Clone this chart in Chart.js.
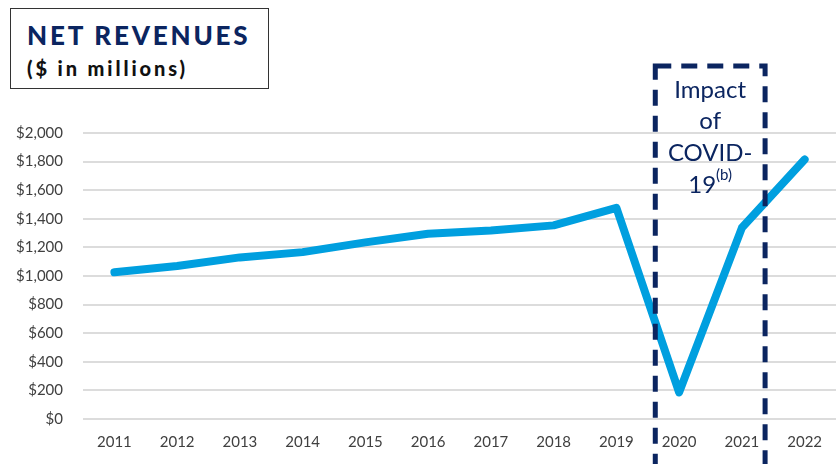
<!DOCTYPE html>
<html>
<head>
<meta charset="utf-8">
<script src="https://cdn.jsdelivr.net/npm/chart.js@4.4.0/dist/chart.umd.min.js"></script>
<style>
  html, body { margin: 0; padding: 0; background: #fff; }
  #wrap { position: relative; width: 836px; height: 464px; }
  #titleBox {
    position: absolute; left: 10px; top: 8px; width: 259px; height: 81px;
    border: 1px solid #333; box-sizing: border-box; background: #fff;
    font-family: Lato, "Open Sans", sans-serif;
  }
  #titleBox .t1 {
    position: absolute; left: 16px; top: 10px;
    font-size: 26px; font-weight: 900; color: #0b2560; letter-spacing: 2.8px;
  }
  #titleBox .t2 {
    position: absolute; left: 16px; top: 47px;
    font-size: 20px; font-weight: 900; color: #111; letter-spacing: 2.9px;
  }
</style>
</head>
<body>
<div id="wrap">
  <canvas id="revChart" width="836" height="464"></canvas>
  <div id="titleBox">
    <div class="t1">NET REVENUES</div>
    <div class="t2">($ in millions)</div>
  </div>
</div>
<script>
// Données
const years = ["2011", "2012", "2013", "2014", "2015", "2016", "2017", "2018", "2019", "2020", "2021", "2022"];
const netRevenues = [1026, 1070, 1130, 1167, 1235, 1295, 1318, 1354, 1477, 186, 1337, 1815];
const yTicks = [0, 200, 400, 600, 800, 1000, 1200, 1400, 1600, 1800, 2000];
const covidStart = "2020";
const covidEnd = "2021";

const navy = "#0b2560";

// Cadre pointillé "Impact of COVID-19"
const covidBox = {
  id: "covidBox",
  afterDatasetsDraw(chart) {
    const ctx = chart.ctx;
    const x = chart.scales.x;
    const step = x.getPixelForValue(1) - x.getPixelForValue(0);
    const left = x.getPixelForValue(years.indexOf(covidStart)) - step * 0.38;
    const right = x.getPixelForValue(years.indexOf(covidEnd)) + step * 0.37;
    const top = 66;
    const bottom = 470;

    ctx.save();
    ctx.strokeStyle = navy;
    ctx.lineWidth = 5;
    ctx.setLineDash([16, 10]);
    ctx.strokeRect(left, top, right - left, bottom - top);
    ctx.setLineDash([]);

    const cx = (left + right) / 2;
    ctx.fillStyle = navy;
    ctx.textAlign = "center";
    ctx.textBaseline = "middle";
    ctx.font = "24px Lato, 'Open Sans', sans-serif";
    ctx.fillText("Impact", cx, 90);
    ctx.fillText("of", cx, 121);
    ctx.fillText("COVID-", cx, 153);
    const w19 = ctx.measureText("19").width;
    ctx.font = "15px Lato, 'Open Sans', sans-serif";
    const wb = ctx.measureText("(b)").width;
    const start = cx - (w19 + wb) / 2;
    ctx.textAlign = "left";
    ctx.font = "24px Lato, 'Open Sans', sans-serif";
    ctx.fillText("19", start, 185);
    ctx.font = "15px Lato, 'Open Sans', sans-serif";
    ctx.fillText("(b)", start + w19, 175);
    ctx.restore();
  }
};

const ctx = document.getElementById("revChart").getContext("2d");
new Chart(ctx, {
  type: "line",
  data: {
    labels: years,
    datasets: [{
      data: netRevenues,
      borderColor: "#009fdf",
      borderWidth: 8,
      borderCapStyle: "round",
      borderJoinStyle: "round",
      pointRadius: 0,
      tension: 0,
      fill: false
    }]
  },
  options: {
    responsive: false,
    animation: false,
    layout: { padding: { top: 133, left: 6, right: 0, bottom: 7 } },
    plugins: {
      legend: { display: false },
      tooltip: { enabled: false }
    },
    scales: {
      x: {
        offset: true,
        grid: { display: false },
        border: { display: false },
        ticks: {
          color: "#404040",
          font: { family: "Lato, 'Open Sans', sans-serif", size: 15 },
          padding: 6,
          maxRotation: 0
        }
      },
      y: {
        min: 0,
        max: 2000,
        afterBuildTicks: axis => { axis.ticks = yTicks.map(v => ({ value: v })); },
        afterFit: axis => { axis.width = 77; },
        grid: { color: "#dcdcdc", lineWidth: 2, drawTicks: false },
        border: { display: false },
        ticks: {
          color: "#404040",
          font: { family: "Lato, 'Open Sans', sans-serif", size: 15 },
          padding: 20,
          callback: v => "$" + v.toLocaleString("en-US")
        }
      }
    }
  },
  plugins: [covidBox]
});
</script>
</body>
</html>
